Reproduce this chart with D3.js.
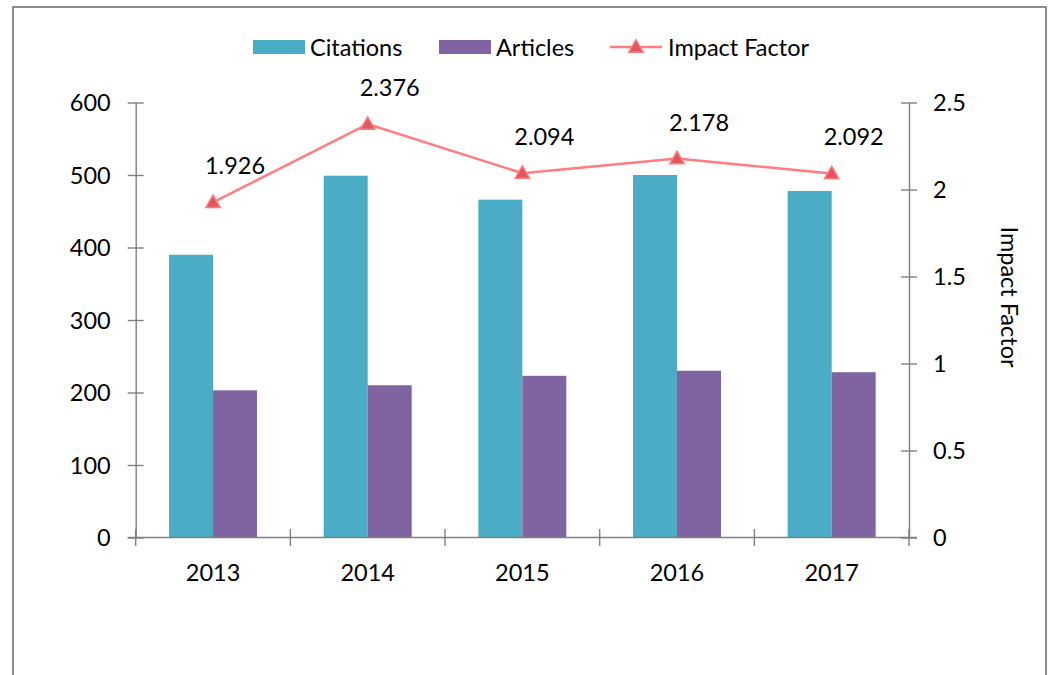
<!DOCTYPE html>
<html>
<head>
<meta charset="utf-8">
<script src="https://cdn.jsdelivr.net/npm/d3@7"></script>
<style>
  html, body { margin: 0; padding: 0; background: #fff; }
  svg { display: block; }
  text { font-family: Lato, "Open Sans", sans-serif; fill: #000; }
</style>
</head>
<body>
<svg id="chart" width="1049" height="675"></svg>
<script>
const years = ["2013", "2014", "2015", "2016", "2017"];
const citations = [390, 499, 466, 500, 478];
const articles = [203, 210, 223, 230, 228];
const impactFactor = [1.926, 2.376, 2.094, 2.178, 2.092];
const leftTicks = [0, 100, 200, 300, 400, 500, 600];
const rightTicks = [0, 0.5, 1, 1.5, 2, 2.5];
const seriesNames = ["Citations", "Articles", "Impact Factor"];

const colCit = "#4BACC6", colArt = "#8064A2", colLine = "#FF7C80", colMarker = "#E0585E";
const axisCol = "#808080";
const FS = "23.5px";

const svg = d3.select("#chart");
const plot = { left: 135.7, right: 909, top: 102.5, bottom: 537.5 };

// frame
svg.append("rect").attr("x", 13).attr("y", 7).attr("width", 1033).attr("height", 720)
  .attr("fill", "none").attr("stroke", axisCol).attr("stroke-width", 1.8);

const x = d3.scaleBand().domain(years).range([plot.left, plot.right])
  .paddingInner(0.431).paddingOuter(0.2155);
const x1 = d3.scaleBand().domain(["Citations", "Articles"]).range([0, x.bandwidth()]);
const yL = d3.scaleLinear().domain([0, 600]).range([plot.bottom, plot.top]);
const yR = d3.scaleLinear().domain([0, 2.5]).range([plot.bottom, plot.top]);

// bars
const groups = svg.append("g").selectAll("g").data(years).join("g")
  .attr("transform", d => `translate(${x(d)},0)`);
groups.append("rect")
  .attr("x", x1("Citations")).attr("width", x1.bandwidth())
  .attr("y", (d, i) => yL(citations[i])).attr("height", (d, i) => yL(0) - yL(citations[i]))
  .attr("fill", colCit);
groups.append("rect")
  .attr("x", x1("Articles")).attr("width", x1.bandwidth())
  .attr("y", (d, i) => yL(articles[i])).attr("height", (d, i) => yL(0) - yL(articles[i]))
  .attr("fill", colArt);

// left axis
const gL = svg.append("g").attr("transform", `translate(${plot.left},0)`)
  .call(d3.axisLeft(yL).tickValues(leftTicks).tickSize(8).tickPadding(0).tickSizeOuter(0));
gL.select(".domain").attr("stroke", axisCol).attr("stroke-width", 1.4);
gL.selectAll(".tick line").attr("x1", -8).attr("x2", 8).attr("stroke", axisCol).attr("stroke-width", 1.4);
gL.selectAll(".tick text").attr("x", -25).attr("dy", "0.36em")
  .style("font-family", "Lato, sans-serif").style("font-size", FS).attr("fill", "#000");

// right axis
const gR = svg.append("g").attr("transform", `translate(${plot.right},0)`)
  .call(d3.axisRight(yR).tickValues(rightTicks).tickFormat(d3.format("~g")).tickSize(8).tickPadding(0).tickSizeOuter(0));
gR.select(".domain").attr("stroke", axisCol).attr("stroke-width", 1.4);
gR.selectAll(".tick line").attr("x1", -8).attr("x2", 8).attr("stroke", axisCol).attr("stroke-width", 1.4);
gR.selectAll(".tick text").attr("x", 24).attr("dy", "0.36em")
  .style("font-family", "Lato, sans-serif").style("font-size", FS).attr("fill", "#000");

// x axis
const gX = svg.append("g");
gX.append("line").attr("x1", plot.left - 8).attr("x2", plot.right + 8)
  .attr("y1", yL(0)).attr("y2", yL(0)).attr("stroke", axisCol).attr("stroke-width", 1.4);
const boundaries = d3.range(years.length + 1).map(i => x.range()[0] + i * x.step());
gX.selectAll("line.xt").data(boundaries).join("line").attr("class", "xt")
  .attr("x1", d => d).attr("x2", d => d).attr("y1", yL(0) - 8.5).attr("y2", yL(0) + 8.5)
  .attr("stroke", axisCol).attr("stroke-width", 1.4);
gX.selectAll("text").data(years).join("text")
  .attr("x", d => x(d) + x.bandwidth() / 2).attr("y", yL(0) + 43)
  .attr("text-anchor", "middle").style("font-size", FS).text(d => d);

// line
const cx = d => x(d) + x.bandwidth() / 2;
const line = d3.line().x((d, i) => cx(years[i])).y(d => yR(d));
svg.append("path").datum(impactFactor).attr("d", line)
  .attr("fill", "none").attr("stroke", colLine).attr("stroke-width", 2.5);

const tri = d3.symbol().type(d3.symbolTriangle).size(90);
svg.append("g").selectAll("path").data(impactFactor).join("path")
  .attr("d", tri)
  .attr("transform", (d, i) => `translate(${cx(years[i])},${yR(d) + 1})`)
  .attr("fill", colMarker).attr("stroke", colLine).attr("stroke-width", 1.5);

// data labels
svg.append("g").selectAll("text").data(impactFactor).join("text")
  .attr("x", (d, i) => cx(years[i]) + 22).attr("y", d => yR(d) - 28)
  .attr("text-anchor", "middle").style("font-size", FS)
  .text(d => d3.format(".3f")(d));

// right axis title
svg.append("text").attr("transform", "translate(1001,297) rotate(90)")
  .attr("text-anchor", "middle").style("font-size", FS).text("Impact Factor");

// legend
const lg = svg.append("g");
lg.append("rect").attr("x", 253).attr("y", 40).attr("width", 52).attr("height", 14).attr("fill", colCit);
lg.append("text").attr("x", 310).attr("y", 55.5).style("font-size", FS).text(seriesNames[0]);
lg.append("rect").attr("x", 439).attr("y", 40).attr("width", 52).attr("height", 14).attr("fill", colArt);
lg.append("text").attr("x", 496).attr("y", 55.5).style("font-size", FS).text(seriesNames[1]);
lg.append("line").attr("x1", 610).attr("x2", 662).attr("y1", 47).attr("y2", 47)
  .attr("stroke", colLine).attr("stroke-width", 2.5);
lg.append("path").attr("d", tri).attr("transform", "translate(636,48)")
  .attr("fill", colMarker).attr("stroke", colLine).attr("stroke-width", 1.5);
lg.append("text").attr("x", 668).attr("y", 55.5).style("font-size", FS).text(seriesNames[2]);
</script>
</body>
</html>
